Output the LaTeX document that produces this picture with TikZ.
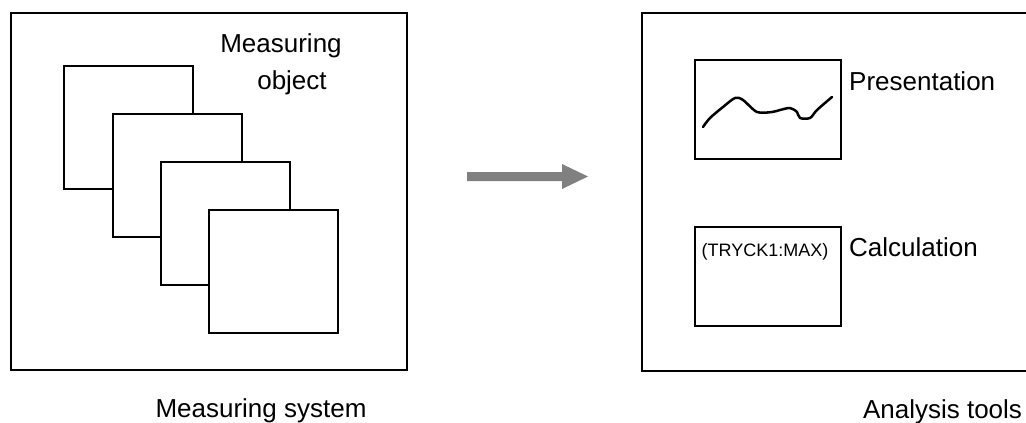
\documentclass[tikz,border=0pt]{standalone}
\usepackage{fontspec}
\setmainfont{Liberation Sans}
\begin{document}
\begin{tikzpicture}[x=1pt,y=-1pt,
  outerbox/.style={draw, line width=2.2pt, rectangle, anchor=north west, inner sep=0},
  sheet/.style={draw, line width=2pt, fill=white, rectangle, anchor=north west, minimum width=129pt, minimum height=123pt, inner sep=0},
  panel/.style={draw, line width=2pt, rectangle, anchor=north west, minimum width=146pt, minimum height=99pt, inner sep=0},
  big/.style={font=\fontsize{26}{37}\selectfont, inner sep=0},
  small/.style={font=\fontsize{18}{22}\selectfont, inner sep=0}]
\clip (0,0) rectangle (1026,423);
\fill[white] (0,0) rectangle (1026,423);
% left box
\node[outerbox, minimum width=396pt, minimum height=357pt] (ms) at (10,12) {};
\node[sheet] (s1) at (63,65) {};
\node[sheet] (s2) at (112,113) {};
\node[sheet] (s3) at (160,161) {};
\node[sheet] (s4) at (208,209) {};
\node[big, anchor=base] (mo1) at (281,52) {Measuring};
\node[big, anchor=base] (mo2) at (292,89) {object};
\node[big, anchor=base] (msl) at (261,417) {Measuring system};
% arrow
\coordinate (a1) at (467,176.5);
\coordinate (a2) at (588,176.5);
\fill[gray!95!black!55!white, fill=gray] (a1) ++(0,-4.5) -- ++(95,0) -- ++(0,-8) -- (a2) -- ++(-26,12.5) -- ++(0,-8) -- ++(-95,0) -- cycle;
% right box
\node[outerbox, minimum width=420pt, minimum height=358pt] (at) at (641,12) {};
\node[panel] (pp) at (694,59) {};
\node[panel] (pc) at (694,226) {};
\node[big, anchor=base west] (pl) at (849,90) {Presentation};
\node[big, anchor=base west] (cl) at (849,256) {Calculation};
\node[small, anchor=base] (tr) at (765,256) {(TRYCK1:MAX)};
\node[big, anchor=base] (atl) at (942.5,418) {Analysis tools};
\draw[line width=2.5pt, line cap=round, line join=round]
  plot[smooth, tension=0.5] coordinates {(703,127) (710,118) (723,107) (735,98) (743,100) (757,112) (772,112) (780,110) (790,108) (797,112) (800,118) (810,118) (817,110) (832,97)};
\end{tikzpicture}
\end{document}
